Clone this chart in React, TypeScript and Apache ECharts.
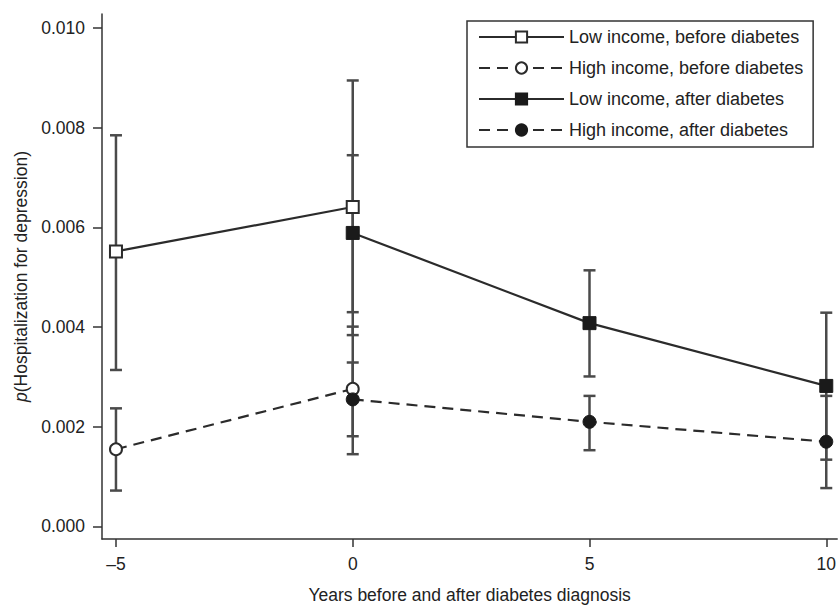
import React, { useEffect, useRef } from "react";
import * as echarts from "echarts";

const xTicks = [-5, 0, 5, 10];
const yTicks = [0, 0.002, 0.004, 0.006, 0.008, 0.01];

const lowBeforeX = [-5, 0];
const lowBeforeY = [0.00552, 0.00641];
const lowBeforeLo = [0.00314, 0.00384];
const lowBeforeHi = [0.00785, 0.00895];

const highBeforeX = [-5, 0];
const highBeforeY = [0.00155, 0.00276];
const highBeforeLo = [0.00072, 0.00145];
const highBeforeHi = [0.00237, 0.00401];

const lowAfterX = [0, 5, 10];
const lowAfterY = [0.00589, 0.00408, 0.00282];
const lowAfterLo = [0.0043, 0.00301, 0.00134];
const lowAfterHi = [0.00745, 0.00514, 0.00429];

const highAfterX = [0, 5, 10];
const highAfterY = [0.00255, 0.0021, 0.0017];
const highAfterLo = [0.00181, 0.00153, 0.00077];
const highAfterHi = [0.00329, 0.00262, 0.00262];

const names = [
  "Low income, before diabetes",
  "High income, before diabetes",
  "Low income, after diabetes",
  "High income, after diabetes",
];

const FONT = "'Liberation Sans', Arial, Helvetica, sans-serif";
const INK = "#2b2b2b";
const BAR = "#4a4a4a";

function pts(xs: number[], ys: number[]) {
  return xs.map((x, i) => [x, ys[i]]);
}
function bars(xs: number[], lo: number[], hi: number[]) {
  return xs.map((x, i) => [x, lo[i], hi[i]]);
}

export default function App() {
  const ref = useRef<HTMLDivElement>(null);
  useEffect(() => {
    if (!ref.current) return;
    const chart = echarts.init(ref.current, null, { renderer: "svg" });
    const errData = [
      ...bars(lowBeforeX, lowBeforeLo, lowBeforeHi),
      ...bars(highBeforeX, highBeforeLo, highBeforeHi),
      ...bars(lowAfterX, lowAfterLo, lowAfterHi),
      ...bars(highAfterX, highAfterLo, highAfterHi),
    ];
    const capHalf = 6;
    const dash = [11, 7];
    const option: any = {
      animation: false,
      backgroundColor: "#ffffff",
      textStyle: { fontFamily: FONT },
      grid: { left: 102, right: 0, top: 14, bottom: 64 },
      legend: {
        data: names,
        orient: "vertical",
        left: 467,
        top: 21,
        padding: [6, 10, 7, 11],
        itemGap: 11,
        itemWidth: 85,
        itemHeight: 14,
        borderColor: "#333",
        borderWidth: 1.5,
        selectedMode: false,
        textStyle: { fontFamily: FONT, fontSize: 18, color: "#222", lineHeight: 20 },
      },
      xAxis: {
        type: "value",
        min: -5.295,
        max: 10.23,
        name: "Years before and after diabetes diagnosis",
        nameLocation: "middle",
        nameGap: 47,
        nameTextStyle: { fontFamily: FONT, fontSize: 17.5, color: "#222" },
        splitLine: { show: false },
        axisLine: { show: true, onZero: false, lineStyle: { color: "#333", width: 1.5 } },
        axisTick: { show: true, length: 8, customValues: xTicks, lineStyle: { color: "#333", width: 1.5 } },
        axisLabel: {
          customValues: xTicks,
          margin: 16,
          fontFamily: FONT,
          fontSize: 17.5,
          color: "#222",
          formatter: (v: number) => (v < 0 ? "\u2013" + Math.abs(v) : String(v)),
        },
      },
      yAxis: {
        type: "value",
        min: -0.000252,
        max: 0.010284,
        name: "{i|p}(Hospitalization for depression)",
        nameLocation: "middle",
        nameGap: 68,
        nameRotate: 90,
        nameTextStyle: {
          fontFamily: FONT,
          fontSize: 17.5,
          color: "#222",
          rich: { i: { fontStyle: "italic", fontFamily: FONT, fontSize: 17.5, color: "#222" } },
        },
        splitLine: { show: false },
        axisLine: { show: true, onZero: false, lineStyle: { color: "#333", width: 1.5 } },
        axisTick: { show: true, length: 9, customValues: yTicks, lineStyle: { color: "#333", width: 1.5 } },
        axisLabel: {
          customValues: yTicks,
          margin: 17,
          fontFamily: FONT,
          fontSize: 17.5,
          color: "#222",
          formatter: (v: number) => v.toFixed(3),
        },
      },
      series: [
        {
          type: "custom",
          name: "errors",
          z: 1,
          silent: true,
          data: errData,
          renderItem: (params: any, api: any) => {
            const x = api.value(0);
            const lo = api.coord([x, api.value(1)]);
            const hi = api.coord([x, api.value(2)]);
            const st = { stroke: BAR, lineWidth: 2.5 };
            return {
              type: "group",
              children: [
                { type: "line", shape: { x1: lo[0], y1: lo[1], x2: hi[0], y2: hi[1] }, style: st },
                { type: "line", shape: { x1: lo[0] - capHalf, y1: lo[1], x2: lo[0] + capHalf, y2: lo[1] }, style: st },
                { type: "line", shape: { x1: hi[0] - capHalf, y1: hi[1], x2: hi[0] + capHalf, y2: hi[1] }, style: st },
              ],
            };
          },
        },
        {
          type: "line",
          name: names[0],
          z: 3,
          data: pts(lowBeforeX, lowBeforeY),
          symbol: "rect",
          symbolSize: 12,
          lineStyle: { color: INK, width: 2.2, type: "solid" },
          itemStyle: { color: "#ffffff", borderColor: INK, borderWidth: 2 },
        },
        {
          type: "line",
          name: names[1],
          z: 3,
          data: pts(highBeforeX, highBeforeY),
          symbol: "circle",
          symbolSize: 12,
          lineStyle: { color: INK, width: 2.2, type: dash },
          itemStyle: { color: "#ffffff", borderColor: INK, borderWidth: 2 },
        },
        {
          type: "line",
          name: names[2],
          z: 3,
          data: pts(lowAfterX, lowAfterY),
          symbol: "rect",
          symbolSize: 13,
          lineStyle: { color: INK, width: 2.2, type: "solid" },
          itemStyle: { color: "#1a1a1a", borderColor: "#1a1a1a", borderWidth: 1 },
        },
        {
          type: "line",
          name: names[3],
          z: 3,
          data: pts(highAfterX, highAfterY),
          symbol: "circle",
          symbolSize: 13,
          lineStyle: { color: INK, width: 2.2, type: dash },
          itemStyle: { color: "#1a1a1a", borderColor: "#1a1a1a", borderWidth: 1 },
        },
      ],
    };
    chart.setOption(option);
    return () => chart.dispose();
  }, []);
  return <div ref={ref} style={{ width: 839, height: 609, position: "absolute", left: 0, top: 0 }} />;
}
